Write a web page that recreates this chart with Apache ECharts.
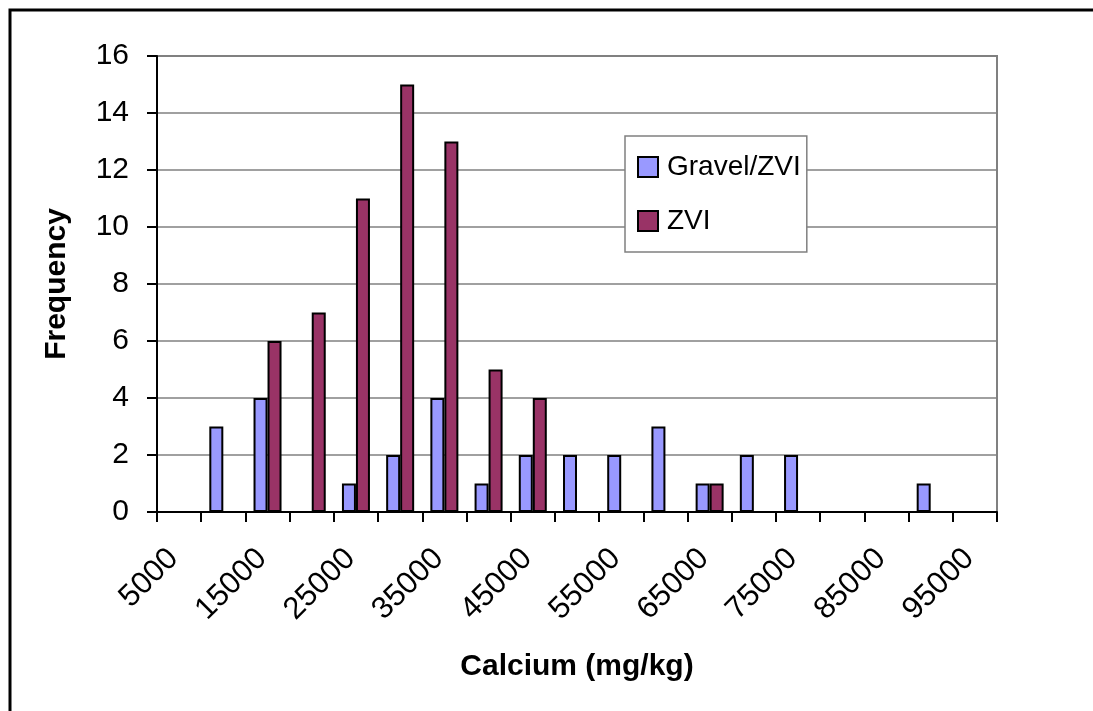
<!DOCTYPE html>
<html>
<head>
<meta charset="utf-8">
<title>Calcium histogram</title>
<script src="https://cdn.jsdelivr.net/npm/echarts@6/dist/echarts.min.js"></script>
<style>
  html, body {
    margin: 0;
    padding: 0;
    background: #fff;
  }
  #main {
    width: 1093px;
    height: 711px;
  }
</style>
</head>
<body>
<div id="main"></div>
<script>
// bins (mg/kg)
var categories = [
  "5000", "10000", "15000", "20000", "25000", "30000", "35000", "40000",
  "45000", "50000", "55000", "60000", "65000", "70000", "75000", "80000",
  "85000", "90000", "95000",
];
var gravelZvi = [0, 3, 4, 0, 1, 2, 4, 1, 2, 2, 2, 3, 1, 2, 2, 0, 0, 1, 0];
var zvi = [0, 0, 6, 7, 11, 15, 13, 5, 4, 0, 0, 0, 1, 0, 0, 0, 0, 0, 0];
var yTicks = [0, 2, 4, 6, 8, 10, 12, 14, 16];

var myChart = echarts.init(document.getElementById("main"));
var fontName = "Liberation Sans, Arial, sans-serif";

var option = {
  animation: false,
  backgroundColor: "#fff",
  textStyle: {
    fontFamily: fontName,
  },
  graphic: [
    {
      // outer chart frame (right/bottom run off the picture)
      type: "rect",
      shape: { x: 10, y: 10, width: 1200, height: 800 },
      style: { fill: "none", stroke: "#000", lineWidth: 3 },
      silent: true,
    },
  ],
  grid: {
    left: 157,
    right: 96,
    top: 56,
    bottom: 199,
    show: true,
    borderColor: "#808080",
    borderWidth: 2,
  },
  legend: {
    orient: "vertical",
    left: 625,
    top: 136,
    padding: [17, 6, 17, 12],
    itemWidth: 20,
    itemHeight: 20,
    itemGap: 26,
    backgroundColor: "#fff",
    borderColor: "#808080",
    borderWidth: 1.5,
    borderRadius: 0,
    icon: "rect",
    itemStyle: {
      borderColor: "#000",
      borderWidth: 2,
    },
    textStyle: {
      fontFamily: fontName,
      fontSize: 28,
      color: "#000",
      padding: [0, 0, 0, 4],
    },
    data: ["Gravel/ZVI", "ZVI"],
  },
  xAxis: {
    type: "category",
    data: categories,
    boundaryGap: true,
    name: "Calcium (mg/kg)",
    nameLocation: "middle",
    nameGap: 140,
    nameTextStyle: {
      fontFamily: fontName,
      fontSize: 30,
      fontWeight: "bold",
      color: "#000",
    },
    axisLine: {
      lineStyle: { color: "#000", width: 2 },
    },
    axisTick: {
      show: true,
      interval: 0,
      length: 10,
      lineStyle: { color: "#000", width: 2 },
    },
    axisLabel: {
      interval: 1,
      rotate: 45,
      margin: 36,
      fontFamily: fontName,
      fontSize: 31,
      color: "#000",
      padding: [0, 8, 0, 0],
    },
    splitLine: { show: false },
  },
  yAxis: {
    type: "value",
    min: 0,
    max: 16,
    interval: 2,
    name: "Frequency",
    nameLocation: "middle",
    nameGap: 85,
    nameTextStyle: {
      fontFamily: fontName,
      fontSize: 30,
      fontWeight: "bold",
      color: "#000",
    },
    axisLine: {
      show: true,
      lineStyle: { color: "#000", width: 2 },
    },
    axisTick: {
      show: true,
      length: 10,
      lineStyle: { color: "#000", width: 2 },
    },
    axisLabel: {
      margin: 28,
      fontFamily: fontName,
      fontSize: 30,
      color: "#000",
      formatter: function (v) {
        return yTicks.indexOf(v) >= 0 ? String(v) : "";
      },
    },
    splitLine: {
      show: true,
      lineStyle: { color: "#808080", width: 1.5 },
    },
  },
  series: [
    {
      name: "Gravel/ZVI",
      type: "bar",
      data: gravelZvi,
      barWidth: 14,
      barGap: "0%",
      itemStyle: {
        color: "#9999FF",
        borderColor: "#000",
        borderWidth: 2,
      },
    },
    {
      name: "ZVI",
      type: "bar",
      data: zvi,
      barWidth: 14,
      barGap: "0%",
      itemStyle: {
        color: "#993366",
        borderColor: "#000",
        borderWidth: 2,
      },
    },
  ],
};

myChart.setOption(option);
</script>
</body>
</html>
